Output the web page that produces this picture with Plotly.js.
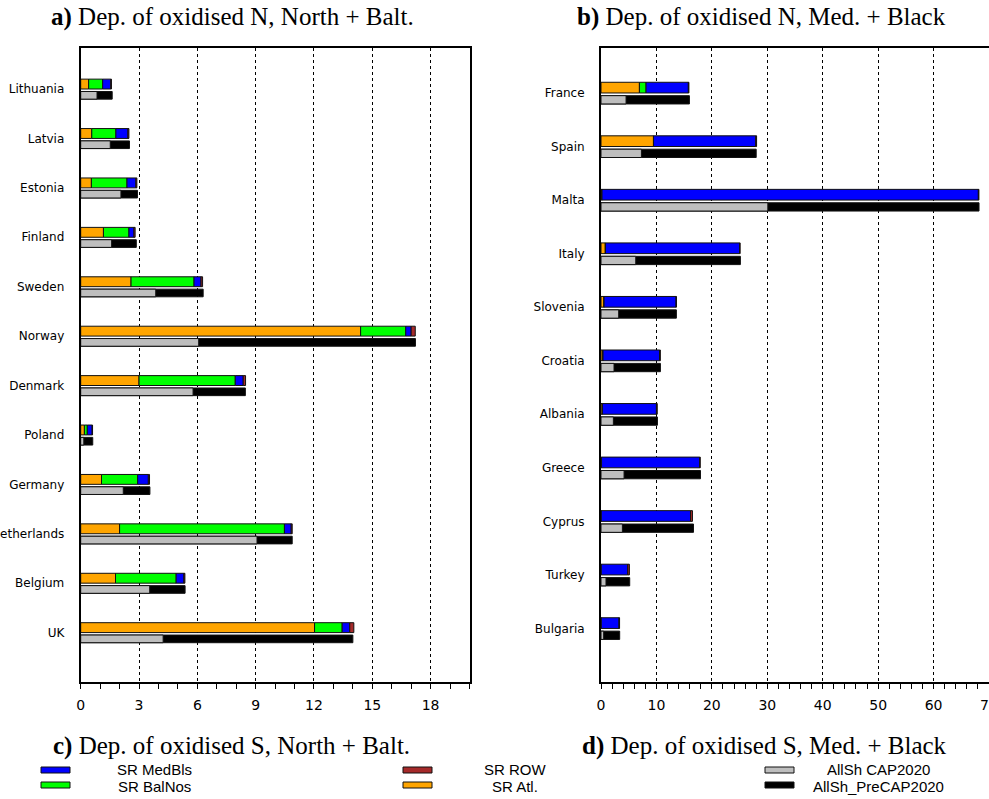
<!DOCTYPE html>
<html><head><meta charset="utf-8">
<script src="https://cdn.plot.ly/plotly-3.0.1.min.js"></script>
<style>html,body{margin:0;padding:0;background:#fff}#chart{width:989px;height:799px}</style>
</head><body><div id="chart"></div>
<script>
// ---- data: panel a) North + Baltic ----
const northCountries = ["Lithuania","Latvia","Estonia","Finland","Sweden","Norway","Denmark","Poland","Germany","Netherlands","Belgium","UK"];
const northAtl       = [0.41,0.57,0.55,1.17,2.59,14.40,3.00,0.19,1.07,2.00,1.79,12.03];
const northBalNos    = [0.72,1.24,1.83,1.31,3.24,2.32,4.95,0.15,1.86,8.48,3.12,1.42];
const northMedBls    = [0.42,0.62,0.46,0.26,0.36,0.28,0.41,0.25,0.55,0.35,0.40,0.39];
const northROW       = [0.03,0.05,0.05,0.06,0.08,0.21,0.12,0.02,0.06,0.05,0.05,0.21];
const northCAP2020   = [0.84,1.52,2.07,1.59,3.86,6.07,5.78,0.16,2.19,9.07,3.55,4.24];
const northPreCAP2020= [1.62,2.51,2.92,2.86,6.30,17.22,8.47,0.62,3.56,10.88,5.37,14.00];

// ---- data: panel b) Mediterranean + Black Sea ----
const medCountries   = ["France","Spain","Malta","Italy","Slovenia","Croatia","Albania","Greece","Cyprus","Turkey","Bulgaria"];
const medAtl         = [6.93,9.46,0.18,0.78,0.54,0.35,0.25,0.10,0.05,0.05,0.05];
const medBalNos      = [1.20,0.02,0.00,0.02,0.01,0.01,0.00,0.00,0.00,0.00,0.00];
const medMedBls      = [7.63,18.44,67.90,24.20,13.00,10.20,9.75,17.70,16.10,4.77,3.20];
const medROW         = [0.10,0.15,0.10,0.10,0.05,0.15,0.15,0.10,0.35,0.30,0.10];
const medCAP2020     = [4.52,7.29,30.10,6.27,3.19,2.35,2.23,4.16,3.86,0.90,0.48];
const medPreCAP2020  = [15.95,28.00,68.20,25.15,13.60,10.72,10.18,17.95,16.69,5.18,3.37];

// ---- series names & colours ----
const srNames  = ["SR Atl.","SR BalNos","SR MedBls","SR ROW"];
const srColors = ["#ffa500","#00ff00","#0000ff","#a52a2a"];
const allNames  = ["AllSh_PreCAP2020","AllSh CAP2020"];
const allColors = ["#000000","#bebebe"];

const W = 989, H = 799;
const px = x => x / W, py = y => 1 - y / H;

function panelTraces(cats, srSeries, pre, cap, xa, ya) {
  const pos = cats.map((_, i) => i);
  const traces = [];
  const cum = cats.map(() => 0);
  srSeries.forEach((vals, k) => {
    const base = cum.slice();
    vals.forEach((v, i) => cum[i] += v);
    traces.push({
      type: 'bar', orientation: 'h', name: srNames[k],
      y: pos, x: vals, base: base, xaxis: xa, yaxis: ya,
      offset: -0.2, width: 0.2,
      marker: {color: srColors[k], line: {color: '#111', width: 1}},
      hoverinfo: 'x+name', showlegend: false
    });
  });
  [pre, cap].forEach((vals, k) => {
    traces.push({
      type: 'bar', orientation: 'h', name: allNames[k],
      y: pos, x: vals, xaxis: xa, yaxis: ya,
      offset: 0.05, width: 0.155,
      marker: {color: allColors[k], line: {color: '#111', width: 1}},
      hoverinfo: 'x+name', showlegend: false
    });
  });
  return traces;
}

const data = [
  ...panelTraces(northCountries, [northAtl, northBalNos, northMedBls, northROW], northPreCAP2020, northCAP2020, 'x', 'y'),
  ...panelTraces(medCountries, [medAtl, medBalNos, medMedBls, medROW], medPreCAP2020, medCAP2020, 'x2', 'y2')
];

const tickFont = {family: 'DejaVu Sans', size: 14, color: '#000'};
const catFont  = {family: 'DejaVu Sans', size: 12, color: '#000'};
const yDomain = [py(682), py(48)];

function xAxis(domain, range, dtick, minorDtick, anchor) {
  return {
    domain: domain, range: range, anchor: anchor, tick0: 0, dtick: dtick,
    ticks: 'outside', ticklen: 5, tickwidth: 1, tickcolor: '#000',
    showline: true, linewidth: 2, linecolor: '#000', mirror: true,
    showgrid: true, gridcolor: '#000', gridwidth: 1, griddash: '3px,3px',
    zeroline: false, tickfont: tickFont, fixedrange: true,
    ticklabelstandoff: 4, ticklabeloverflow: 'allow',
    minor: {dtick: minorDtick, tick0: 0, ticks: 'outside', ticklen: 5, tickwidth: 1, tickcolor: '#000', showgrid: false}
  };
}
function yAxis(cats, range, anchor, mirror) {
  return {
    domain: yDomain, range: range, anchor: anchor,
    tickmode: 'array', tickvals: cats.map((_, i) => i), ticktext: cats,
    ticks: '', showline: true, linewidth: 2, linecolor: '#000', mirror: mirror,
    showgrid: false, zeroline: false, tickfont: catFont, ticklabelstandoff: 12,
    ticklabeloverflow: 'allow', fixedrange: true
  };
}

const serif = {family: 'Liberation Serif, Times New Roman, serif', size: 25, color: '#000'};
const sans  = {family: 'Liberation Sans, Arial, sans-serif', size: 15, color: '#000'};

const annotations = [
  {text: '<b>a)</b> Dep. of oxidised N, North + Balt.', x: px(232), y: py(17), font: serif},
  {text: '<b>b)</b> Dep. of oxidised N, Med. + Black', x: px(761), y: py(17), font: serif},
  {text: '<b>c)</b> Dep. of oxidised S, North + Balt.', x: px(231), y: py(746), font: serif},
  {text: '<b>d)</b> Dep. of oxidised S, Med. + Black', x: px(764), y: py(746), font: serif},
  {text: srNames[2], x: px(154), y: py(769), font: sans},
  {text: srNames[1], x: px(154), y: py(786), font: sans},
  {text: srNames[3], x: px(515), y: py(769), font: sans},
  {text: srNames[0], x: px(515), y: py(786), font: sans},
  {text: allNames[1], x: px(878), y: py(769), font: sans},
  {text: allNames[0], x: px(878), y: py(786), font: sans}
].map(a => Object.assign({xref: 'paper', yref: 'paper', xanchor: 'center', yanchor: 'middle', showarrow: false, borderpad: 0}, a));

function swatch(x0, y0, color) {
  return {type: 'rect', xref: 'paper', yref: 'paper', x0: px(x0), x1: px(x0 + 29), y0: py(y0), y1: py(y0 + 6),
          fillcolor: color, line: {color: '#111', width: 1}};
}
const shapes = [
  swatch(41, 767, srColors[2]), swatch(41, 782, srColors[1]),
  swatch(403, 767, srColors[3]), swatch(403, 782, srColors[0]),
  swatch(765, 767, allColors[1]), swatch(765, 782, allColors[0])
];

const layout = {
  width: W, height: H, margin: {l: 0, r: 0, t: 0, b: 0},
  paper_bgcolor: '#fff', plot_bgcolor: '#fff',
  barmode: 'overlay', showlegend: false, bargap: 0,
  xaxis:  xAxis([px(80.7), px(469.5)], [0, 20], 3, 1, 'y'),
  yaxis:  yAxis(northCountries, [12.0, -0.83], 'x', true),
  yaxis3: {overlaying: 'y', anchor: 'x', side: 'right', range: [12.0, -0.83],
           tickmode: 'array', tickvals: northCountries.map((_, i) => i),
           ticks: 'inside', ticklen: 4, tickcolor: '#000', showticklabels: false,
           showline: false, showgrid: false, zeroline: false, fixedrange: true},
  xaxis2: xAxis([px(601), 1], [0, 70], 10, 2, 'y2'),
  yaxis2: yAxis(medCountries, [11.0, -0.84], 'x2', false),
  annotations: annotations,
  shapes: shapes
};

Plotly.newPlot('chart', data, layout, {displayModeBar: false, staticPlot: true});
</script>
</body></html>
